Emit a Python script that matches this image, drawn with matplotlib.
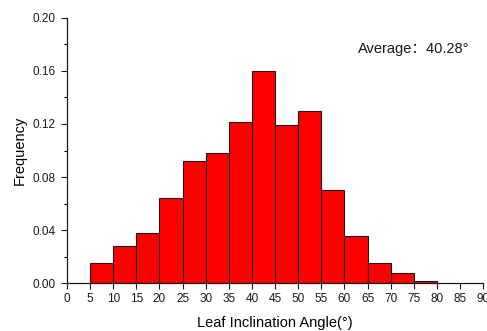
import matplotlib.pyplot as plt
from matplotlib.ticker import MultipleLocator

# Leaf inclination angle bins (degrees) and relative frequency
bin_left = [5, 10, 15, 20, 25, 30, 35, 40, 45, 50, 55, 60, 65, 70, 75]
frequency = [0.015, 0.028, 0.038, 0.064, 0.092, 0.098, 0.1215, 0.160,
             0.119, 0.130, 0.0705, 0.036, 0.015, 0.008, 0.002]
bin_width = 5
x_ticks = list(range(0, 95, 5))
y_ticks = [0.00, 0.04, 0.08, 0.12, 0.16, 0.20]

plt.rcParams['font.family'] = ['Liberation Sans', 'Noto Sans CJK SC', 'DejaVu Sans']

fig = plt.figure(figsize=(4.87, 3.31), dpi=100)
ax = fig.add_axes([0.1376, 0.144, 0.8544, 0.8025])

ax.bar(bin_left, frequency, width=bin_width, align='edge',
       color='#ff0000', edgecolor='#1a1a1a', linewidth=0.8)

ax.set_xlim(0, 90)
ax.set_ylim(0, 0.20)
ax.set_xticks(x_ticks)
ax.set_yticks(y_ticks)
ax.set_yticklabels([f'{v:.2f}' for v in y_ticks])
ax.yaxis.set_minor_locator(MultipleLocator(0.02))

ax.spines['top'].set_visible(False)
ax.spines['right'].set_visible(False)
for s in ['left', 'bottom']:
    ax.spines[s].set_linewidth(0.9)
    ax.spines[s].set_color('#1a1a1a')

ax.tick_params(axis='both', which='major', direction='out', length=4.5,
               width=0.8, labelsize=8.5, colors='#1a1a1a')
ax.tick_params(axis='y', which='major', pad=4)
ax.tick_params(axis='x', which='major', pad=2.5)
ax.tick_params(axis='y', which='minor', direction='out', length=2.5, width=0.8)

ax.set_xlabel('Leaf Inclination Angle(°)', fontsize=10.5, labelpad=8)
ax.set_ylabel('Frequency', fontsize=10.5, labelpad=4)

ax.text(0.70, 0.881, 'Average：40.28°', transform=ax.transAxes,
        fontsize=10.5, ha='left', va='center', color='#1a1a1a')

plt.savefig('out.png', dpi=100)
plt.close()
